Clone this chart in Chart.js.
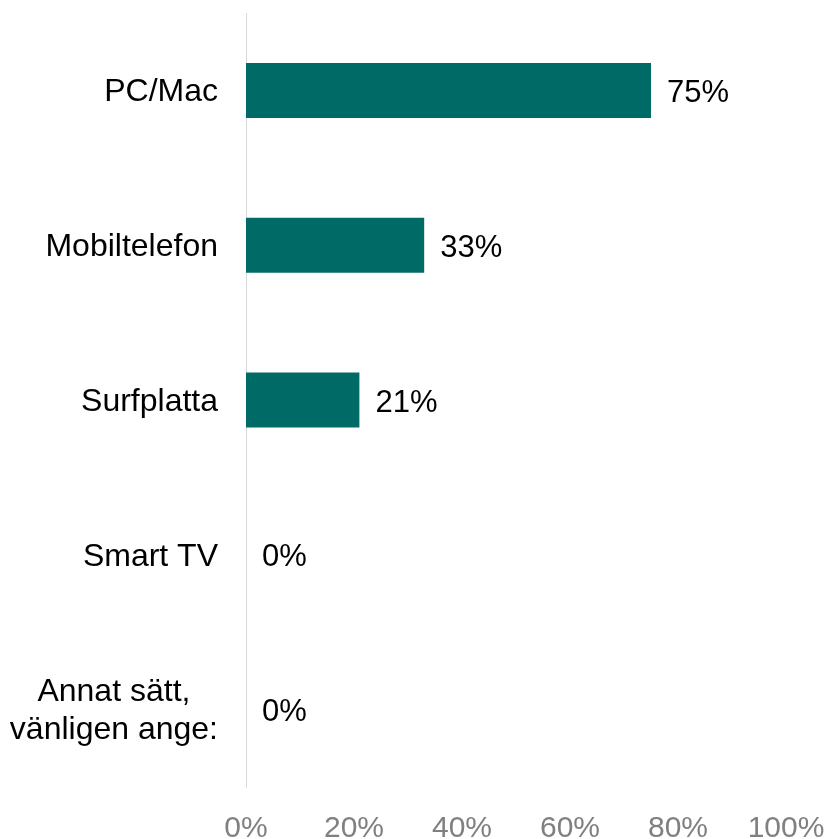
<!DOCTYPE html>
<html>
<head>
<meta charset="utf-8">
<script src="https://cdn.jsdelivr.net/npm/chart.js@4"></script>
<style>
    body { margin: 0; background: #ffffff; }
</style>
</head>
<body>
<canvas id="deviceChart" width="831" height="839"></canvas>
<script>
// Chart data
const categories = ["PC/Mac", "Mobiltelefon", "Surfplatta", "Smart TV", ["Annat sätt,", "vänligen ange:"]];
const shares = [75, 33, 21, 0, 0];
const tickValues = [0, 20, 40, 60, 80, 100];

const FONT = '"Liberation Sans", Arial, sans-serif';
const BAR_COLOR = '#006b66';

// Category labels: right aligned block, lines centered within the block
const categoryLabels = {
    id: 'categoryLabels',
    afterDraw(chart) {
        const ctx = chart.ctx;
        const yScale = chart.scales.y;
        const right = yScale.right - 28;
        ctx.save();
        ctx.font = '32px ' + FONT;
        ctx.fillStyle = '#000000';
        ctx.textBaseline = 'middle';
        ctx.textAlign = 'center';
        const lineHeight = 38;
        categories.forEach((label, i) => {
            const lines = Array.isArray(label) ? label : [label];
            const maxWidth = Math.max(...lines.map(l => ctx.measureText(l).width));
            const cx = right - maxWidth / 2;
            const cy = yScale.getPixelForTick(i) + 2;
            const startY = cy - (lines.length - 1) * lineHeight / 2;
            lines.forEach((line, j) => {
                ctx.fillText(line, cx, startY + j * lineHeight);
            });
        });
        ctx.restore();
    }
};

// Value labels at the end of each bar
const valueLabels = {
    id: 'valueLabels',
    afterDatasetsDraw(chart) {
        const ctx = chart.ctx;
        const meta = chart.getDatasetMeta(0);
        ctx.save();
        ctx.font = '31px ' + FONT;
        ctx.fillStyle = '#000000';
        ctx.textBaseline = 'middle';
        ctx.textAlign = 'left';
        meta.data.forEach((bar, i) => {
            ctx.fillText(shares[i] + '%', bar.x + 16, bar.y + 3);
        });
        ctx.restore();
    }
};

const ctx = document.getElementById('deviceChart').getContext('2d');
new Chart(ctx, {
    type: 'bar',
    data: {
        labels: categories,
        datasets: [{
            data: shares,
            backgroundColor: BAR_COLOR,
            borderWidth: 0,
            barPercentage: 0.355,
            categoryPercentage: 1
        }]
    },
    options: {
        indexAxis: 'y',
        responsive: false,
        animation: false,
        layout: { padding: { top: 13, right: 45, bottom: 0, left: 0 } },
        plugins: {
            legend: { display: false },
            tooltip: { enabled: false }
        },
        scales: {
            x: {
                min: 0,
                max: 100,
                afterBuildTicks: (scale) => { scale.ticks = tickValues.map(v => ({ value: v })); },
                afterFit: (scale) => {
                    scale.height = 52;
                    scale.paddingLeft = 0;
                    scale.paddingRight = 0;
                },
                grid: { display: false, drawTicks: false },
                border: { display: false },
                ticks: {
                    padding: 24,
                    maxRotation: 0,
                    color: '#808080',
                    font: { family: FONT, size: 30 },
                    callback: (v) => v + '%'
                }
            },
            y: {
                afterFit: (scale) => { scale.width = 246; },
                grid: { display: false, drawTicks: false },
                border: { display: true, color: '#d9d9d9', width: 1 },
                ticks: { display: false }
            }
        }
    },
    plugins: [valueLabels, categoryLabels]
});
</script>
</body>
</html>
